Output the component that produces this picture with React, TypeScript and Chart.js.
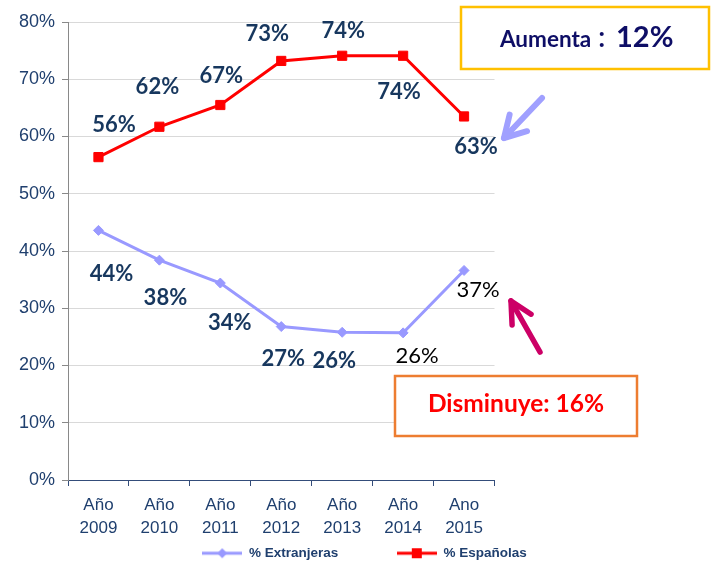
import React, { useEffect, useRef } from "react";
import { Chart, registerables } from "chart.js";

Chart.register(...registerables);

// ---------- data ----------
const categories: string[][] = [
  ["Año", "2009"],
  ["Año", "2010"],
  ["Año", "2011"],
  ["Año", "2012"],
  ["Año", "2013"],
  ["Año", "2014"],
  ["Ano", "2015"],
];
const extranjeras: number[] = [43.6, 38.4, 34.4, 26.8, 25.8, 25.7, 36.6];
const espanolas: number[] = [56.4, 61.7, 65.5, 73.2, 74.1, 74.1, 63.5];
const extranjerasLabels: string[] = ["44%", "38%", "34%", "27%", "26%", "26%", "37%"];
const espanolasLabels: string[] = ["56%", "62%", "67%", "73%", "74%", "74%", "63%"];
const seriesNames: string[] = ["% Extranjeras", "% Españolas"];
const yMin = 0;
const yMax = 80;
const yStep = 10;
const boxAumenta = ["Aumenta", "：", "12%"];
const boxDisminuye = "Disminuye: 16%";

// ---------- styles / layout ----------
const RED = "#FF0000";
const LAV = "#9999FF";
const NAVY = "#1F3F6E";
const LABEL_NAVY = "#17375E";
const AXIS_NAVY = "#344D7A";
const GRID = "#D9D9D9";
const AXIS_GRAY = "#898989";
const CANVAS_W = 717;
const CANVAS_H = 570;
const PLOT_BOTTOM = 480;
const LEGEND_GAP_SPACES = 14;

// label offsets (px) relative to each point, and whether bold navy
const extOffsets: number[][] = [[13, 44], [6, 38], [9.5, 40], [2, 32], [-8, 29], [14, 23], [14, 19.5]];
const extBold: boolean[] = [true, true, true, true, true, false, false];
const espOffsets: number[][] = [[15.5, -32], [-2, -40], [1, -29.5], [-14, -27], [1, -25], [-4, 36.5], [12, 30]];
const espBold: boolean[] = [true, true, true, true, true, true, true];

function makeLegendIcon(color: string, kind: "diamond" | "square") {
  const c = document.createElement("canvas");
  c.width = 40;
  c.height = 12;
  const ctx = c.getContext("2d")!;
  ctx.strokeStyle = color;
  ctx.lineWidth = 3;
  ctx.beginPath();
  ctx.moveTo(0, 6);
  ctx.lineTo(40, 6);
  ctx.stroke();
  ctx.fillStyle = color;
  if (kind === "square") {
    ctx.fillRect(15, 1, 10, 10);
  } else {
    ctx.beginPath();
    ctx.moveTo(20, 1);
    ctx.lineTo(25, 6);
    ctx.lineTo(20, 11);
    ctx.lineTo(15, 6);
    ctx.closePath();
    ctx.fill();
  }
  return c;
}

function drawArrow(
  ctx: CanvasRenderingContext2D,
  x1: number, y1: number, x2: number, y2: number,
  color: string, width: number, headLen: number, headAngle: number
) {
  const back = Math.atan2(y1 - y2, x1 - x2);
  ctx.save();
  ctx.strokeStyle = color;
  ctx.lineWidth = width;
  ctx.lineCap = "round";
  ctx.lineJoin = "round";
  ctx.beginPath();
  ctx.moveTo(x1, y1);
  ctx.lineTo(x2, y2);
  ctx.stroke();
  ctx.beginPath();
  ctx.moveTo(x2 + headLen * Math.cos(back - headAngle), y2 + headLen * Math.sin(back - headAngle));
  ctx.lineTo(x2, y2);
  ctx.lineTo(x2 + headLen * Math.cos(back + headAngle), y2 + headLen * Math.sin(back + headAngle));
  ctx.stroke();
  ctx.restore();
}

const pointLabelPlugin = {
  id: "pointLabelPlugin",
  afterDatasetsDraw(chart: any) {
    const ctx: CanvasRenderingContext2D = chart.ctx;
    const sets = [
      { labels: extranjerasLabels, offsets: extOffsets, bold: extBold },
      { labels: espanolasLabels, offsets: espOffsets, bold: espBold },
    ];
    ctx.save();
    ctx.textAlign = "center";
    ctx.textBaseline = "middle";
    sets.forEach((s, di) => {
      const meta = chart.getDatasetMeta(di);
      meta.data.forEach((pt: any, i: number) => {
        const [dx, dy] = s.offsets[i];
        if (s.bold[i]) {
          ctx.font = 'bold 22px Lato, "Open Sans", sans-serif';
          ctx.fillStyle = LABEL_NAVY;
        } else {
          ctx.font = '22px Lato, "Open Sans", sans-serif';
          ctx.fillStyle = "#000000";
        }
        ctx.fillText(s.labels[i], pt.x + dx, pt.y + dy);
      });
    });
    ctx.restore();
  },
};

const annotationPlugin = {
  id: "annotationPlugin",
  afterDraw(chart: any) {
    const ctx: CanvasRenderingContext2D = chart.ctx;
    ctx.save();
    // yellow box
    ctx.fillStyle = "#FFFFFF";
    ctx.fillRect(461, 7, 248, 62);
    ctx.strokeStyle = "#FFC000";
    ctx.lineWidth = 2.5;
    ctx.strokeRect(461, 7, 248, 62);
    ctx.textAlign = "left";
    ctx.textBaseline = "alphabetic";
    ctx.fillStyle = "#0E0E66";
    ctx.font = 'bold 22.5px Lato, "Open Sans", sans-serif';
    const wA = ctx.measureText(boxAumenta[0]).width;
    ctx.fillText(boxAumenta[0], 500, 47);
    ctx.font = 'bold 21px "Noto Sans CJK JP", sans-serif';
    ctx.fillText(boxAumenta[1], 500 + wA, 47);
    ctx.font = 'bold 29px Lato, "Open Sans", sans-serif';
    ctx.fillText(boxAumenta[2], 616, 47);

    // orange box
    ctx.fillStyle = "#FFFFFF";
    ctx.fillRect(395, 376, 242, 60);
    ctx.strokeStyle = "#ED7D31";
    ctx.lineWidth = 2.5;
    ctx.strokeRect(395, 376, 242, 60);
    ctx.textAlign = "center";
    ctx.fillStyle = "#FF0000";
    ctx.font = 'bold 24.5px Lato, "Open Sans", sans-serif';
    ctx.fillText(boxDisminuye, 516, 412);
    ctx.restore();

    drawArrow(ctx, 542, 98, 504, 138, "#A0A0FF", 6, 24, (30 * Math.PI) / 180);
    drawArrow(ctx, 540, 352, 511, 301, "#CC0066", 5.5, 24, (27 * Math.PI) / 180);
  },
};

export default function App() {
  const ref = useRef<HTMLCanvasElement | null>(null);

  useEffect(() => {
    if (!ref.current) return;
    const icons = [makeLegendIcon(LAV, "diamond"), makeLegendIcon(RED, "square")];
    const chart = new Chart(ref.current, {
      type: "line",
      data: {
        labels: categories as any,
        datasets: [
          {
            label: seriesNames[0],
            data: extranjeras,
            borderColor: LAV,
            backgroundColor: LAV,
            borderWidth: 3,
            pointStyle: "rectRot",
            pointRadius: 5,
            pointBorderWidth: 1,
            pointBorderColor: LAV,
            pointBackgroundColor: LAV,
            tension: 0,
            yAxisID: "y",
          },
          {
            label: seriesNames[1],
            data: espanolas,
            borderColor: RED,
            backgroundColor: RED,
            borderWidth: 3,
            pointStyle: "rect",
            pointRadius: 6.5,
            pointBorderWidth: 1,
            pointBorderColor: RED,
            pointBackgroundColor: RED,
            tension: 0,
            yAxisID: "y",
          },
        ],
      },
      options: {
        responsive: false,
        animation: false,
        layout: { padding: { left: 12, top: 22, right: 0, bottom: 0 } },
        plugins: {
          tooltip: { enabled: false },
          legend: {
            position: "bottom",
            labels: {
              usePointStyle: true,
              pointStyleWidth: 40,
              padding: 6,
              color: NAVY,
              font: { family: '"Liberation Sans", Arial, sans-serif', size: 13.5, weight: "bold" },
              generateLabels: (c: any) => {
                const items = (Chart.defaults.plugins.legend.labels as any).generateLabels(c);
                return items.map((it: any, i: number) => ({
                  ...it,
                  text: i === 0 ? it.text + " ".repeat(LEGEND_GAP_SPACES) : it.text,
                  pointStyle: icons[i],
                  fontColor: NAVY,
                }));
              },
            },
          },
        },
        scales: {
          x: {
            type: "category",
            offset: true,
            grid: {
              offset: true,
              drawOnChartArea: false,
              color: AXIS_NAVY,
              tickLength: 6,
            },
            border: { color: AXIS_NAVY, width: 1 },
            ticks: {
              color: NAVY,
              padding: 8,
              maxRotation: 0,
              autoSkip: false,
              font: { family: '"Liberation Sans", Arial, sans-serif', size: 17, lineHeight: "23px" },
            },
            afterFit: (scale: any) => {
              const lh = scale.chart.legend ? scale.chart.legend.height : 29.5;
              scale.height = CANVAS_H - lh - PLOT_BOTTOM;
            },
          },
          y: {
            min: yMin,
            max: yMax,
            position: "left",
            ticks: {
              stepSize: yStep,
              callback: (v: any) => v + "%",
              color: NAVY,
              padding: 7,
              font: { family: '"Liberation Sans", Arial, sans-serif', size: 18 },
            },
            grid: {
              color: (c: any) => (c.index === 0 ? "rgba(0,0,0,0)" : GRID),
              tickColor: AXIS_GRAY,
              tickLength: 6,
              lineWidth: 1,
            },
            border: { color: AXIS_GRAY, width: 1 },
            afterFit: (scale: any) => {
              scale.width = 56;
            },
          },
          y2: {
            position: "right",
            display: true,
            grid: { display: false },
            ticks: { display: false },
            border: { display: false },
            afterFit: (scale: any) => {
              scale.width = CANVAS_W - 494.5;
            },
          },
        },
      } as any,
      plugins: [pointLabelPlugin, annotationPlugin],
    });
    return () => chart.destroy();
  }, []);

  return (
    <div
      style={{
        position: "absolute",
        left: 0,
        top: 0,
        width: CANVAS_W,
        height: 562,
        overflow: "hidden",
        background: "#FFFFFF",
      }}
    >
      <canvas ref={ref} width={CANVAS_W} height={CANVAS_H} style={{ display: "block" }} />
    </div>
  );
}
